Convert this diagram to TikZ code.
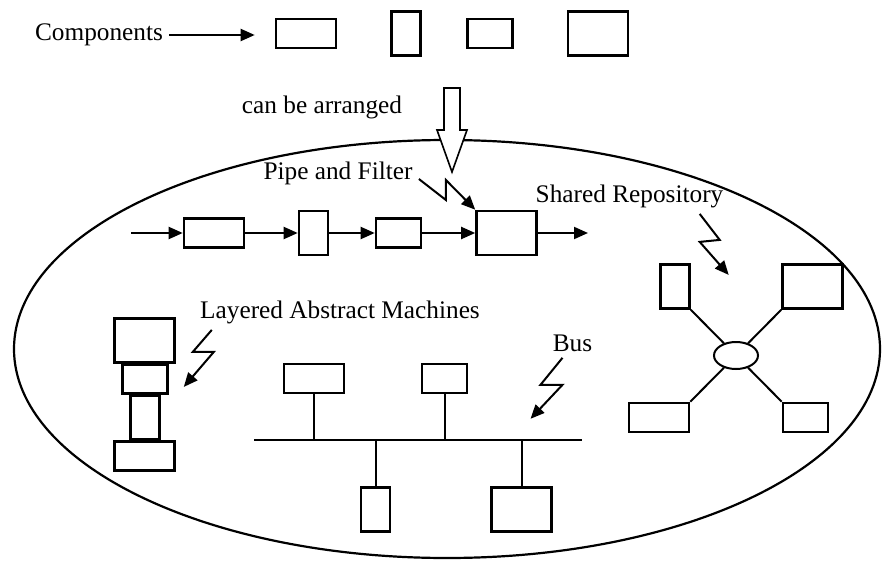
\documentclass[tikz,border=0pt]{standalone}
\usepackage{fontspec}
\setmainfont{Liberation Serif}
\usepackage{tikz}
\usetikzlibrary{positioning, arrows.meta, shapes.geometric}

\begin{document}
\begin{tikzpicture}[x=0.5pt, y=-0.5pt, >={Triangle[length=7pt,width=6pt]},
    partbox/.style={draw, line width=1.3pt, inner sep=0pt},
    wbox/.style={partbox, minimum width=30pt, minimum height=14.5pt},
    tbox/.style={partbox, minimum width=14.5pt, minimum height=22pt},
    sbox/.style={partbox, minimum width=22.5pt, minimum height=14.5pt},
    bbox/.style={partbox, minimum width=30pt, minimum height=22pt},
    lbl/.style={font=\fontsize{12.65}{15}\selectfont, inner sep=3pt},
    wire/.style={line width=1pt},
    bolt/.style={line width=1pt, ->}]

    \useasboundingbox (0,0) rectangle (882,561);

    % ================= the loose components =================
    \node[lbl] (comp) at (99,35) {Components};
    \node[wbox] (C1) at (306,33.5) {};
    \node[tbox] (C2) at (406,33.5) {};
    \node[sbox] (C3) at (490,33.5) {};
    \node[bbox] (C4) at (598,33.5) {};
    \draw[wire,->,shorten >=10pt] (comp.east) -- (comp.east -| C1.west);

    % ================= the system boundary =================
    \draw[line width=1.1pt] (447,349) ellipse [x radius=216.5pt, y radius=104.5pt];

    % big hollow arrow into the ellipse
    \node[lbl] (arr) at (322,107) {can be arranged};
    \draw[line width=0.8pt, fill=white] (444,88) -- (460,88) -- (460,130) -- (467,130)
        -- (452,172) -- (437,130) -- (444,130) -- cycle;

    % ================= pipe and filter =================
    \node[lbl] (pf) at (338,173) {Pipe and Filter};
    \node[wbox] (P1) at (214,233) {};
    \node[tbox] (P2) at (313.5,233) {};
    \node[sbox] (P3) at (398.5,233) {};
    \node[bbox] (P4) at (506.5,233) {};
    \coordinate (pin) at (131,233);
    \coordinate (pout) at (588,233);

    \draw[wire,->] (pin) -- (P1);
    \draw[wire,->] (P1) -- (P2);
    \draw[wire,->] (P2) -- (P3);
    \draw[wire,->] (P3) -- (P4);
    \draw[wire,->] (P4) -- (pout);
    \draw[bolt] ([yshift=-3pt]pf.east) -- ++(27,21) -- ++(0,-20) -- (P4.north west);

    % ================= shared repository =================
    \node[lbl] (shr) at (629.5,196) {Shared Repository};
    \node[draw, ellipse, line width=1pt, inner sep=0pt,
          minimum width=22pt, minimum height=13.5pt] (hub) at (736,355.5) {};
    \node[tbox] (S1) at (675,286.5) {};
    \node[bbox] (S2) at (812.5,286.5) {};
    \node[wbox] (S3) at (659,417.5) {};
    \node[sbox] (S4) at (805.5,417.5) {};

    \draw[wire] (S1.south east) -- (hub);
    \draw[wire] (S2.south west) -- (hub);
    \draw[wire] (S3.north east) -- (hub);
    \draw[wire] (S4.north west) -- (hub);
    \draw[bolt] ([xshift=-15pt]shr.south east) -- ++(20,26) -- ++(-20,2) -- ++(29,33);

    % ================= layered abstract machines =================
    \node[lbl] (lam) at (340,312) {Layered Abstract Machines};
    \node[bbox] (L1) at (144.5,340.5) {};
    \node[sbox] (L2) at (145,379) {};
    \node[tbox] (L3) at (145,417.5) {};
    \node[wbox] (L4) at (144.5,456) {};
    \draw[bolt] ([xshift=9pt]lam.south west) -- ++(-19,22) -- ++(21,0) -- ++(-30,35);

    % ================= bus =================
    \node[lbl] (bus) at (572.5,343) {Bus};
    \coordinate (busL) at (254,440);
    \coordinate (busR) at (582,440);
    \node[wbox] (B1) at (314,378.5) {};
    \node[sbox] (B2) at (444.5,378.5) {};
    \node[tbox] (B3) at (375.5,509.5) {};
    \node[bbox] (B4) at (521.5,509.5) {};

    \draw[wire] (busL) -- (busR);
    \draw[wire] (B1.south) -- (B1.south |- busL);
    \draw[wire] (B2.south) -- (B2.south |- busL);
    \draw[wire] (B3.north) -- (B3.north |- busL);
    \draw[wire] (B4.north) -- (B4.north |- busL);
    \draw[bolt] ([xshift=-5pt]bus.south) -- ++(-22,27) -- ++(22,0) -- ++(-32,34);

\end{tikzpicture}
\end{document}
